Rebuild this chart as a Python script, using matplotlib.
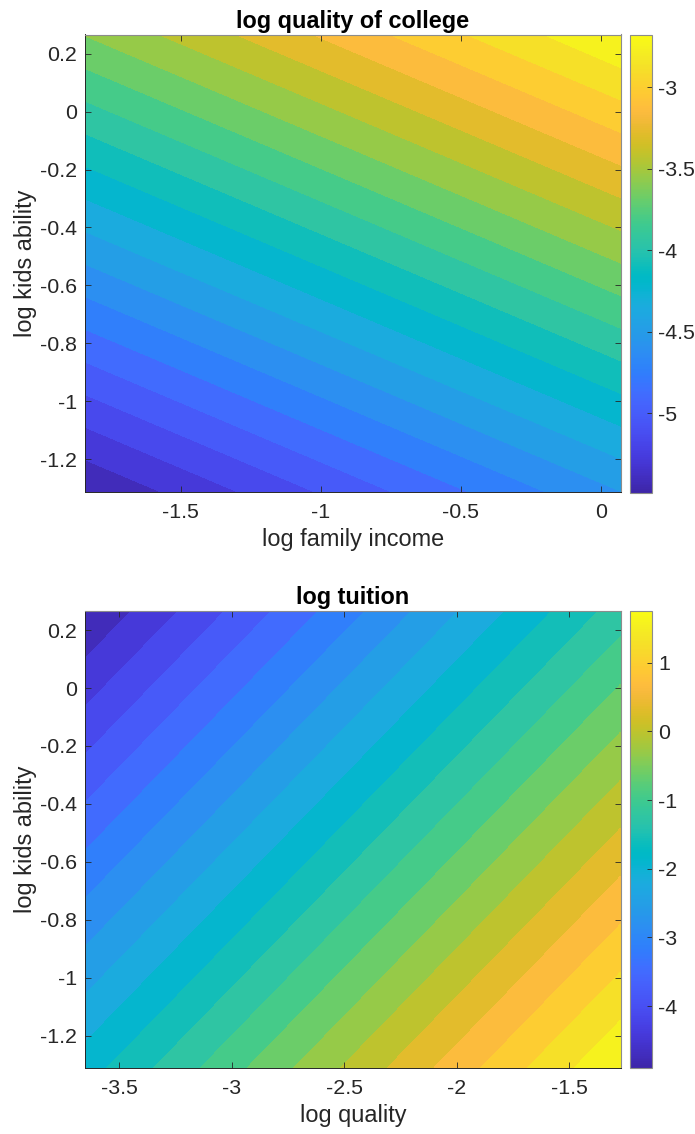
import matplotlib
matplotlib.use('Agg')
from matplotlib import pyplot as plt
from matplotlib.colors import LinearSegmentedColormap, Normalize
from matplotlib.cm import ScalarMappable
import numpy as np

# values: grid corners of each (planar) surface
income = [-1.842, 0.072]
ability = [-1.313, 0.266]
# rows: ability low/high, cols: income low/high
log_quality = [[-5.487, -4.555],
               [-3.611, -2.679]]

quality = [-3.651, -1.271]
# rows: ability low/high, cols: quality low/high
log_tuition = [[-1.885, 1.753],
               [-4.907, -1.269]]

n_levels = 20

x_ticks_top = [-1.5, -1, -0.5, 0]
x_ticks_bot = [-3.5, -3, -2.5, -2, -1.5]
y_ticks = [-1.2, -1, -0.8, -0.6, -0.4, -0.2, 0, 0.2]
cb_ticks_top = [-5, -4.5, -4, -3.5, -3]
cb_ticks_bot = [-4, -3, -2, -1, 0, 1]

# matlab parula (64)
PARULA = [
    (0.2422, 0.1504, 0.6603), (0.2504, 0.1650, 0.7076), (0.2578, 0.1818, 0.7511),
    (0.2647, 0.1978, 0.7952), (0.2706, 0.2147, 0.8364), (0.2751, 0.2342, 0.8710),
    (0.2783, 0.2559, 0.8991), (0.2803, 0.2782, 0.9221), (0.2813, 0.3006, 0.9414),
    (0.2810, 0.3228, 0.9579), (0.2795, 0.3447, 0.9717), (0.2760, 0.3667, 0.9829),
    (0.2699, 0.3892, 0.9906), (0.2602, 0.4123, 0.9952), (0.2440, 0.4358, 0.9988),
    (0.2206, 0.4603, 0.9973), (0.1963, 0.4847, 0.9892), (0.1834, 0.5074, 0.9798),
    (0.1786, 0.5289, 0.9682), (0.1764, 0.5499, 0.9520), (0.1687, 0.5703, 0.9359),
    (0.1540, 0.5902, 0.9218), (0.1460, 0.6091, 0.9079), (0.1380, 0.6276, 0.8973),
    (0.1248, 0.6459, 0.8883), (0.1113, 0.6635, 0.8763), (0.0952, 0.6798, 0.8598),
    (0.0689, 0.6948, 0.8394), (0.0297, 0.7082, 0.8163), (0.0036, 0.7203, 0.7917),
    (0.0067, 0.7312, 0.7660), (0.0433, 0.7411, 0.7394), (0.0964, 0.7500, 0.7120),
    (0.1408, 0.7584, 0.6842), (0.1717, 0.7670, 0.6554), (0.1938, 0.7758, 0.6251),
    (0.2161, 0.7843, 0.5923), (0.2470, 0.7918, 0.5567), (0.2906, 0.7973, 0.5188),
    (0.3406, 0.8008, 0.4789), (0.3909, 0.8029, 0.4354), (0.4456, 0.8024, 0.3909),
    (0.5044, 0.7993, 0.3480), (0.5616, 0.7942, 0.3045), (0.6174, 0.7876, 0.2612),
    (0.6720, 0.7793, 0.2227), (0.7242, 0.7698, 0.1910), (0.7738, 0.7598, 0.1646),
    (0.8203, 0.7498, 0.1535), (0.8634, 0.7406, 0.1596), (0.9035, 0.7330, 0.1774),
    (0.9393, 0.7288, 0.2100), (0.9728, 0.7298, 0.2394), (0.9956, 0.7434, 0.2371),
    (0.9970, 0.7659, 0.2199), (0.9952, 0.7893, 0.2028), (0.9892, 0.8136, 0.1885),
    (0.9786, 0.8386, 0.1766), (0.9676, 0.8639, 0.1643), (0.9610, 0.8890, 0.1537),
    (0.9597, 0.9135, 0.1423), (0.9628, 0.9373, 0.1265), (0.9691, 0.9606, 0.1064),
    (0.9769, 0.9839, 0.0805)]
parula = LinearSegmentedColormap.from_list('parula', PARULA, N=256)

plt.rcParams['font.family'] = ['Liberation Sans', 'DejaVu Sans']
plt.rcParams['axes.unicode_minus'] = False
TXT = '#262626'
FS_TICK = 15.4
FS_LAB = 16.9


def panel(ax, cax, x, y, z, xt, cbt, title, xlabel):
    z = np.array(z)
    X, Y = np.meshgrid(x, y)
    lv = np.linspace(z.min(), z.max(), n_levels + 2)
    cs = ax.contourf(X, Y, z, levels=lv, cmap=parula)
    cs.set_edgecolor('face')
    cs.set_linewidth(0.4)
    ax.set_xlim(x[0], x[1])
    ax.set_ylim(y[0], y[1])
    ax.set_xticks(xt)
    ax.set_xticklabels(['%g' % v for v in xt])
    ax.set_yticks(y_ticks)
    ax.set_yticklabels(['%g' % v for v in y_ticks])
    ax.tick_params(direction='in', top=True, right=True, length=4, width=0.6,
                   color=TXT, labelcolor=TXT, labelsize=FS_TICK)
    ax.tick_params(axis='x', pad=8)
    ax.tick_params(axis='y', pad=5.5)
    for s in ['left', 'bottom']:
        ax.spines[s].set_color(TXT)
        ax.spines[s].set_linewidth(0.7)
    for s in ['top', 'right']:
        ax.spines[s].set_color('#8c8c8c')
        ax.spines[s].set_linewidth(0.8)
    ax.set_title(title, fontsize=FS_LAB, fontweight='bold', color='black', pad=5)
    ax.set_xlabel(xlabel, fontsize=FS_LAB, color=TXT, labelpad=4)
    ax.set_ylabel('log kids ability', fontsize=FS_LAB, color=TXT, labelpad=2)

    sm = ScalarMappable(norm=Normalize(z.min(), z.max()), cmap=parula)
    cb = plt.colorbar(sm, cax=cax)
    cb.set_ticks(cbt)
    cb.set_ticklabels(['%g' % v for v in cbt])
    cax.tick_params(direction='in', length=3.6, width=0.6, color=TXT,
                    labelcolor=TXT, labelsize=FS_TICK, pad=4.5)
    cb.outline.set_edgecolor('#8c8c8c')
    cb.outline.set_linewidth(0.8)


fig = plt.figure(figsize=(6.95, 11.34), dpi=100)
W, H = 695., 1134.
ax1 = fig.add_axes([85 / W, 1 - 492 / H, 536 / W, 457.5 / H])
cax1 = fig.add_axes([630 / W, 1 - 492.5 / H, 21.7 / W, 457.5 / H])
ax2 = fig.add_axes([85 / W, 1 - 1068.3 / H, 536 / W, 457.3 / H])
cax2 = fig.add_axes([630 / W, 1 - 1068.3 / H, 21.7 / W, 457.3 / H])

panel(ax1, cax1, income, ability, log_quality, x_ticks_top, cb_ticks_top,
      'log quality of college', 'log family income')
panel(ax2, cax2, quality, ability, log_tuition, x_ticks_bot, cb_ticks_bot,
      'log tuition', 'log quality')

plt.savefig('out.png', dpi=100)
